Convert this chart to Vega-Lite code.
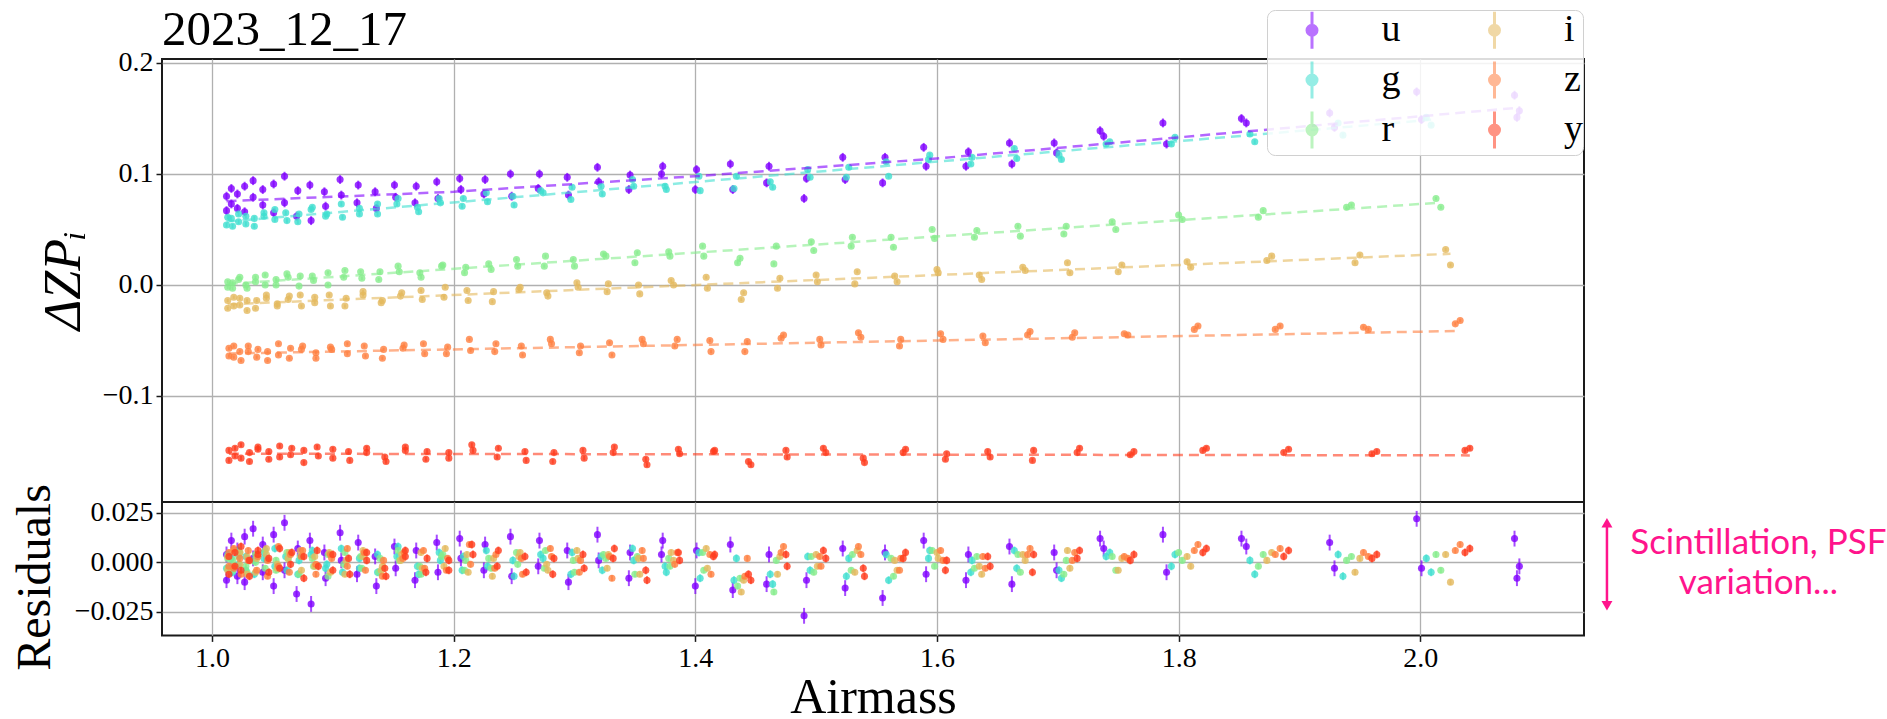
{
"$schema": "https://vega.github.io/schema/vega-lite/v6.json",
"background": "white",
"padding": {"left": 10, "top": 4, "right": 0, "bottom": 0},
"bounds": "flush",
"datasets": {
"pts": [
{"b":"u","a":1.012,"z":0.080,"r":0.004,"e":0.004},
{"b":"u","a":1.012,"z":0.067,"r":-0.009,"e":0.004},
{"b":"u","a":1.016,"z":0.087,"r":0.011,"e":0.004},
{"b":"u","a":1.016,"z":0.073,"r":-0.003,"e":0.004},
{"b":"u","a":1.021,"z":0.069,"r":-0.007,"e":0.004},
{"b":"u","a":1.021,"z":0.082,"r":0.006,"e":0.004},
{"b":"u","a":1.027,"z":0.089,"r":0.013,"e":0.004},
{"b":"u","a":1.027,"z":0.066,"r":-0.010,"e":0.004},
{"b":"u","a":1.034,"z":0.079,"r":0.002,"e":0.004},
{"b":"u","a":1.034,"z":0.094,"r":0.017,"e":0.004},
{"b":"u","a":1.042,"z":0.072,"r":-0.005,"e":0.004},
{"b":"u","a":1.042,"z":0.086,"r":0.009,"e":0.004},
{"b":"u","a":1.051,"z":0.091,"r":0.014,"e":0.004},
{"b":"u","a":1.051,"z":0.065,"r":-0.012,"e":0.004},
{"b":"u","a":1.060,"z":0.098,"r":0.020,"e":0.004},
{"b":"u","a":1.060,"z":0.074,"r":-0.004,"e":0.004},
{"b":"u","a":1.070,"z":0.062,"r":-0.016,"e":0.004},
{"b":"u","a":1.071,"z":0.085,"r":0.007,"e":0.004},
{"b":"u","a":1.081,"z":0.090,"r":0.011,"e":0.004},
{"b":"u","a":1.082,"z":0.058,"r":-0.021,"e":0.004},
{"b":"u","a":1.093,"z":0.084,"r":0.005,"e":0.004},
{"b":"u","a":1.094,"z":0.071,"r":-0.008,"e":0.004},
{"b":"u","a":1.106,"z":0.095,"r":0.015,"e":0.004},
{"b":"u","a":1.107,"z":0.081,"r":0.001,"e":0.004},
{"b":"u","a":1.120,"z":0.074,"r":-0.006,"e":0.004},
{"b":"u","a":1.121,"z":0.090,"r":0.010,"e":0.004},
{"b":"u","a":1.135,"z":0.084,"r":0.003,"e":0.004},
{"b":"u","a":1.136,"z":0.069,"r":-0.012,"e":0.004},
{"b":"u","a":1.151,"z":0.090,"r":0.008,"e":0.004},
{"b":"u","a":1.152,"z":0.079,"r":-0.003,"e":0.004},
{"b":"u","a":1.168,"z":0.074,"r":-0.009,"e":0.004},
{"b":"u","a":1.169,"z":0.089,"r":0.006,"e":0.004},
{"b":"u","a":1.186,"z":0.093,"r":0.010,"e":0.004},
{"b":"u","a":1.187,"z":0.078,"r":-0.005,"e":0.004},
{"b":"u","a":1.205,"z":0.096,"r":0.012,"e":0.004},
{"b":"u","a":1.206,"z":0.086,"r":0.002,"e":0.004},
{"b":"u","a":1.225,"z":0.082,"r":-0.004,"e":0.004},
{"b":"u","a":1.226,"z":0.095,"r":0.009,"e":0.004},
{"b":"u","a":1.247,"z":0.100,"r":0.013,"e":0.004},
{"b":"u","a":1.248,"z":0.080,"r":-0.007,"e":0.004},
{"b":"u","a":1.270,"z":0.087,"r":-0.002,"e":0.004},
{"b":"u","a":1.271,"z":0.100,"r":0.011,"e":0.004},
{"b":"u","a":1.294,"z":0.097,"r":0.006,"e":0.004},
{"b":"u","a":1.295,"z":0.081,"r":-0.010,"e":0.004},
{"b":"u","a":1.319,"z":0.106,"r":0.014,"e":0.004},
{"b":"u","a":1.320,"z":0.093,"r":0.001,"e":0.004},
{"b":"u","a":1.345,"z":0.086,"r":-0.008,"e":0.004},
{"b":"u","a":1.346,"z":0.099,"r":0.005,"e":0.004},
{"b":"u","a":1.372,"z":0.100,"r":0.004,"e":0.004},
{"b":"u","a":1.373,"z":0.107,"r":0.011,"e":0.004},
{"b":"u","a":1.400,"z":0.086,"r":-0.012,"e":0.004},
{"b":"u","a":1.401,"z":0.104,"r":0.006,"e":0.004},
{"b":"u","a":1.429,"z":0.109,"r":0.009,"e":0.004},
{"b":"u","a":1.431,"z":0.086,"r":-0.014,"e":0.004},
{"b":"u","a":1.459,"z":0.092,"r":-0.011,"e":0.004},
{"b":"u","a":1.461,"z":0.107,"r":0.004,"e":0.004},
{"b":"u","a":1.490,"z":0.078,"r":-0.027,"e":0.004},
{"b":"u","a":1.492,"z":0.096,"r":-0.009,"e":0.004},
{"b":"u","a":1.522,"z":0.115,"r":0.007,"e":0.004},
{"b":"u","a":1.524,"z":0.095,"r":-0.013,"e":0.004},
{"b":"u","a":1.555,"z":0.092,"r":-0.018,"e":0.004},
{"b":"u","a":1.557,"z":0.115,"r":0.005,"e":0.004},
{"b":"u","a":1.589,"z":0.124,"r":0.011,"e":0.004},
{"b":"u","a":1.591,"z":0.107,"r":-0.006,"e":0.004},
{"b":"u","a":1.624,"z":0.107,"r":-0.009,"e":0.004},
{"b":"u","a":1.626,"z":0.120,"r":0.004,"e":0.004},
{"b":"u","a":1.660,"z":0.128,"r":0.008,"e":0.004},
{"b":"u","a":1.662,"z":0.109,"r":-0.011,"e":0.004},
{"b":"u","a":1.697,"z":0.128,"r":0.005,"e":0.004},
{"b":"u","a":1.699,"z":0.119,"r":-0.004,"e":0.004},
{"b":"u","a":1.735,"z":0.139,"r":0.012,"e":0.004},
{"b":"u","a":1.738,"z":0.134,"r":0.007,"e":0.004},
{"b":"u","a":1.787,"z":0.146,"r":0.014,"e":0.004},
{"b":"u","a":1.790,"z":0.127,"r":-0.005,"e":0.004},
{"b":"u","a":1.852,"z":0.150,"r":0.012,"e":0.004},
{"b":"u","a":1.856,"z":0.146,"r":0.008,"e":0.004},
{"b":"u","a":1.925,"z":0.155,"r":0.010,"e":0.004},
{"b":"u","a":1.929,"z":0.142,"r":-0.003,"e":0.004},
{"b":"u","a":1.997,"z":0.174,"r":0.022,"e":0.004},
{"b":"u","a":2.001,"z":0.149,"r":-0.003,"e":0.004},
{"b":"u","a":2.078,"z":0.171,"r":0.012,"e":0.004},
{"b":"u","a":2.080,"z":0.151,"r":-0.008,"e":0.004},
{"b":"u","a":2.082,"z":0.157,"r":-0.002,"e":0.004},
{"b":"g","a":1.012,"z":0.054,"r":-0.003,"e":0.002},
{"b":"g","a":1.013,"z":0.061,"r":0.004,"e":0.002},
{"b":"g","a":1.016,"z":0.060,"r":0.002,"e":0.002},
{"b":"g","a":1.017,"z":0.053,"r":-0.005,"e":0.002},
{"b":"g","a":1.022,"z":0.064,"r":0.006,"e":0.002},
{"b":"g","a":1.022,"z":0.057,"r":-0.001,"e":0.002},
{"b":"g","a":1.028,"z":0.055,"r":-0.004,"e":0.002},
{"b":"g","a":1.028,"z":0.062,"r":0.003,"e":0.002},
{"b":"g","a":1.035,"z":0.060,"r":0.001,"e":0.002},
{"b":"g","a":1.035,"z":0.053,"r":-0.006,"e":0.002},
{"b":"g","a":1.043,"z":0.065,"r":0.005,"e":0.002},
{"b":"g","a":1.043,"z":0.062,"r":0.002,"e":0.002},
{"b":"g","a":1.052,"z":0.059,"r":-0.002,"e":0.002},
{"b":"g","a":1.052,"z":0.068,"r":0.007,"e":0.002},
{"b":"g","a":1.061,"z":0.065,"r":0.003,"e":0.002},
{"b":"g","a":1.062,"z":0.058,"r":-0.004,"e":0.002},
{"b":"g","a":1.071,"z":0.057,"r":-0.006,"e":0.002},
{"b":"g","a":1.072,"z":0.064,"r":0.001,"e":0.002},
{"b":"g","a":1.082,"z":0.068,"r":0.004,"e":0.002},
{"b":"g","a":1.083,"z":0.070,"r":0.006,"e":0.002},
{"b":"g","a":1.094,"z":0.062,"r":-0.003,"e":0.002},
{"b":"g","a":1.095,"z":0.064,"r":-0.001,"e":0.002},
{"b":"g","a":1.107,"z":0.073,"r":0.007,"e":0.002},
{"b":"g","a":1.108,"z":0.061,"r":-0.005,"e":0.002},
{"b":"g","a":1.122,"z":0.069,"r":0.002,"e":0.002},
{"b":"g","a":1.122,"z":0.064,"r":-0.003,"e":0.002},
{"b":"g","a":1.137,"z":0.064,"r":-0.005,"e":0.002},
{"b":"g","a":1.137,"z":0.073,"r":0.004,"e":0.002},
{"b":"g","a":1.153,"z":0.073,"r":0.003,"e":0.002},
{"b":"g","a":1.154,"z":0.078,"r":0.008,"e":0.002},
{"b":"g","a":1.170,"z":0.070,"r":-0.002,"e":0.002},
{"b":"g","a":1.171,"z":0.066,"r":-0.006,"e":0.002},
{"b":"g","a":1.188,"z":0.078,"r":0.005,"e":0.002},
{"b":"g","a":1.189,"z":0.074,"r":0.001,"e":0.002},
{"b":"g","a":1.207,"z":0.071,"r":-0.004,"e":0.002},
{"b":"g","a":1.208,"z":0.078,"r":0.003,"e":0.002},
{"b":"g","a":1.227,"z":0.083,"r":0.006,"e":0.002},
{"b":"g","a":1.228,"z":0.075,"r":-0.002,"e":0.002},
{"b":"g","a":1.249,"z":0.080,"r":0.001,"e":0.002},
{"b":"g","a":1.250,"z":0.072,"r":-0.007,"e":0.002},
{"b":"g","a":1.272,"z":0.085,"r":0.004,"e":0.002},
{"b":"g","a":1.274,"z":0.083,"r":0.002,"e":0.002},
{"b":"g","a":1.297,"z":0.077,"r":-0.006,"e":0.002},
{"b":"g","a":1.298,"z":0.088,"r":0.005,"e":0.002},
{"b":"g","a":1.322,"z":0.089,"r":0.003,"e":0.002},
{"b":"g","a":1.323,"z":0.082,"r":-0.004,"e":0.002},
{"b":"g","a":1.348,"z":0.095,"r":0.007,"e":0.002},
{"b":"g","a":1.349,"z":0.089,"r":0.001,"e":0.002},
{"b":"g","a":1.375,"z":0.089,"r":-0.002,"e":0.002},
{"b":"g","a":1.376,"z":0.086,"r":-0.005,"e":0.002},
{"b":"g","a":1.403,"z":0.098,"r":0.005,"e":0.002},
{"b":"g","a":1.404,"z":0.085,"r":-0.008,"e":0.002},
{"b":"g","a":1.432,"z":0.087,"r":-0.009,"e":0.002},
{"b":"g","a":1.434,"z":0.098,"r":0.002,"e":0.002},
{"b":"g","a":1.462,"z":0.093,"r":-0.006,"e":0.002},
{"b":"g","a":1.464,"z":0.088,"r":-0.011,"e":0.002},
{"b":"g","a":1.493,"z":0.104,"r":0.003,"e":0.002},
{"b":"g","a":1.495,"z":0.097,"r":-0.004,"e":0.002},
{"b":"g","a":1.525,"z":0.097,"r":-0.007,"e":0.002},
{"b":"g","a":1.527,"z":0.106,"r":0.002,"e":0.002},
{"b":"g","a":1.558,"z":0.111,"r":0.004,"e":0.002},
{"b":"g","a":1.560,"z":0.098,"r":-0.009,"e":0.002},
{"b":"g","a":1.593,"z":0.113,"r":0.002,"e":0.002},
{"b":"g","a":1.594,"z":0.117,"r":0.006,"e":0.002},
{"b":"g","a":1.628,"z":0.109,"r":-0.005,"e":0.002},
{"b":"g","a":1.629,"z":0.115,"r":0.001,"e":0.002},
{"b":"g","a":1.664,"z":0.123,"r":0.006,"e":0.002},
{"b":"g","a":1.666,"z":0.114,"r":-0.003,"e":0.002},
{"b":"g","a":1.701,"z":0.117,"r":-0.004,"e":0.002},
{"b":"g","a":1.703,"z":0.113,"r":-0.008,"e":0.002},
{"b":"g","a":1.740,"z":0.127,"r":0.003,"e":0.002},
{"b":"g","a":1.743,"z":0.129,"r":0.005,"e":0.002},
{"b":"g","a":1.794,"z":0.127,"r":-0.002,"e":0.002},
{"b":"g","a":1.797,"z":0.133,"r":0.004,"e":0.002},
{"b":"g","a":1.859,"z":0.136,"r":0.001,"e":0.002},
{"b":"g","a":1.863,"z":0.129,"r":-0.006,"e":0.002},
{"b":"g","a":1.932,"z":0.146,"r":0.004,"e":0.002},
{"b":"g","a":1.936,"z":0.135,"r":-0.007,"e":0.002},
{"b":"g","a":2.005,"z":0.151,"r":0.002,"e":0.002},
{"b":"g","a":2.009,"z":0.144,"r":-0.005,"e":0.002},
{"b":"r","a":1.013,"z":0.003,"r":0.002,"e":0.0015},
{"b":"r","a":1.013,"z":-0.002,"r":-0.003,"e":0.0015},
{"b":"r","a":1.017,"z":-0.003,"r":-0.004,"e":0.0015},
{"b":"r","a":1.017,"z":0.002,"r":0.001,"e":0.0015},
{"b":"r","a":1.022,"z":0.005,"r":0.003,"e":0.0015},
{"b":"r","a":1.023,"z":0.007,"r":0.005,"e":0.0015},
{"b":"r","a":1.028,"z":0.000,"r":-0.002,"e":0.0015},
{"b":"r","a":1.029,"z":-0.003,"r":-0.005,"e":0.0015},
{"b":"r","a":1.036,"z":0.007,"r":0.004,"e":0.0015},
{"b":"r","a":1.036,"z":0.003,"r":0.000,"e":0.0015},
{"b":"r","a":1.044,"z":0.000,"r":-0.003,"e":0.0015},
{"b":"r","a":1.044,"z":0.009,"r":0.006,"e":0.0015},
{"b":"r","a":1.053,"z":0.005,"r":0.001,"e":0.0015},
{"b":"r","a":1.053,"z":0.000,"r":-0.004,"e":0.0015},
{"b":"r","a":1.062,"z":0.010,"r":0.005,"e":0.0015},
{"b":"r","a":1.063,"z":0.007,"r":0.002,"e":0.0015},
{"b":"r","a":1.072,"z":-0.001,"r":-0.006,"e":0.0015},
{"b":"r","a":1.073,"z":0.008,"r":0.003,"e":0.0015},
{"b":"r","a":1.083,"z":0.008,"r":0.002,"e":0.0015},
{"b":"r","a":1.084,"z":0.004,"r":-0.002,"e":0.0015},
{"b":"r","a":1.096,"z":0.011,"r":0.004,"e":0.0015},
{"b":"r","a":1.096,"z":0.000,"r":-0.007,"e":0.0015},
{"b":"r","a":1.109,"z":0.007,"r":-0.001,"e":0.0015},
{"b":"r","a":1.110,"z":0.013,"r":0.005,"e":0.0015},
{"b":"r","a":1.123,"z":0.012,"r":0.003,"e":0.0015},
{"b":"r","a":1.124,"z":0.006,"r":-0.003,"e":0.0015},
{"b":"r","a":1.138,"z":0.005,"r":-0.005,"e":0.0015},
{"b":"r","a":1.139,"z":0.012,"r":0.002,"e":0.0015},
{"b":"r","a":1.154,"z":0.017,"r":0.006,"e":0.0015},
{"b":"r","a":1.155,"z":0.012,"r":0.001,"e":0.0015},
{"b":"r","a":1.172,"z":0.011,"r":-0.002,"e":0.0015},
{"b":"r","a":1.173,"z":0.007,"r":-0.006,"e":0.0015},
{"b":"r","a":1.190,"z":0.017,"r":0.003,"e":0.0015},
{"b":"r","a":1.191,"z":0.018,"r":0.004,"e":0.0015},
{"b":"r","a":1.209,"z":0.011,"r":-0.004,"e":0.0015},
{"b":"r","a":1.210,"z":0.016,"r":0.001,"e":0.0015},
{"b":"r","a":1.229,"z":0.019,"r":0.002,"e":0.0015},
{"b":"r","a":1.231,"z":0.014,"r":-0.003,"e":0.0015},
{"b":"r","a":1.252,"z":0.023,"r":0.005,"e":0.0015},
{"b":"r","a":1.253,"z":0.017,"r":-0.001,"e":0.0015},
{"b":"r","a":1.275,"z":0.017,"r":-0.003,"e":0.0015},
{"b":"r","a":1.276,"z":0.026,"r":0.006,"e":0.0015},
{"b":"r","a":1.299,"z":0.023,"r":0.001,"e":0.0015},
{"b":"r","a":1.300,"z":0.017,"r":-0.005,"e":0.0015},
{"b":"r","a":1.324,"z":0.028,"r":0.004,"e":0.0015},
{"b":"r","a":1.326,"z":0.026,"r":0.002,"e":0.0015},
{"b":"r","a":1.350,"z":0.020,"r":-0.006,"e":0.0015},
{"b":"r","a":1.352,"z":0.029,"r":0.003,"e":0.0015},
{"b":"r","a":1.378,"z":0.030,"r":0.002,"e":0.0015},
{"b":"r","a":1.379,"z":0.026,"r":-0.002,"e":0.0015},
{"b":"r","a":1.406,"z":0.035,"r":0.005,"e":0.0015},
{"b":"r","a":1.407,"z":0.026,"r":-0.004,"e":0.0015},
{"b":"r","a":1.435,"z":0.020,"r":-0.012,"e":0.0015},
{"b":"r","a":1.437,"z":0.024,"r":-0.008,"e":0.0015},
{"b":"r","a":1.465,"z":0.019,"r":-0.015,"e":0.0015},
{"b":"r","a":1.467,"z":0.035,"r":0.001,"e":0.0015},
{"b":"r","a":1.496,"z":0.039,"r":0.003,"e":0.0015},
{"b":"r","a":1.498,"z":0.031,"r":-0.005,"e":0.0015},
{"b":"r","a":1.529,"z":0.035,"r":-0.004,"e":0.0015},
{"b":"r","a":1.530,"z":0.043,"r":0.004,"e":0.0015},
{"b":"r","a":1.562,"z":0.043,"r":0.002,"e":0.0015},
{"b":"r","a":1.564,"z":0.034,"r":-0.007,"e":0.0015},
{"b":"r","a":1.596,"z":0.050,"r":0.006,"e":0.0015},
{"b":"r","a":1.598,"z":0.042,"r":-0.002,"e":0.0015},
{"b":"r","a":1.631,"z":0.043,"r":-0.003,"e":0.0015},
{"b":"r","a":1.633,"z":0.049,"r":0.003,"e":0.0015},
{"b":"r","a":1.667,"z":0.053,"r":0.004,"e":0.0015},
{"b":"r","a":1.669,"z":0.044,"r":-0.005,"e":0.0015},
{"b":"r","a":1.705,"z":0.046,"r":-0.006,"e":0.0015},
{"b":"r","a":1.707,"z":0.053,"r":0.001,"e":0.0015},
{"b":"r","a":1.745,"z":0.057,"r":0.003,"e":0.0015},
{"b":"r","a":1.748,"z":0.050,"r":-0.004,"e":0.0015},
{"b":"r","a":1.800,"z":0.063,"r":0.005,"e":0.0015},
{"b":"r","a":1.803,"z":0.059,"r":0.001,"e":0.0015},
{"b":"r","a":1.866,"z":0.061,"r":-0.002,"e":0.0015},
{"b":"r","a":1.870,"z":0.067,"r":0.004,"e":0.0015},
{"b":"r","a":1.939,"z":0.070,"r":0.001,"e":0.0015},
{"b":"r","a":1.943,"z":0.072,"r":0.003,"e":0.0015},
{"b":"r","a":2.013,"z":0.078,"r":0.004,"e":0.0015},
{"b":"r","a":2.017,"z":0.070,"r":-0.004,"e":0.0015},
{"b":"i","a":1.013,"z":-0.021,"r":-0.004,"e":0.0015},
{"b":"i","a":1.013,"z":-0.014,"r":0.003,"e":0.0015},
{"b":"i","a":1.018,"z":-0.011,"r":0.006,"e":0.0015},
{"b":"i","a":1.018,"z":-0.019,"r":-0.002,"e":0.0015},
{"b":"i","a":1.023,"z":-0.018,"r":-0.001,"e":0.0015},
{"b":"i","a":1.023,"z":-0.012,"r":0.005,"e":0.0015},
{"b":"i","a":1.029,"z":-0.014,"r":0.003,"e":0.0015},
{"b":"i","a":1.029,"z":-0.023,"r":-0.006,"e":0.0015},
{"b":"i","a":1.036,"z":-0.021,"r":-0.005,"e":0.0015},
{"b":"i","a":1.037,"z":-0.014,"r":0.002,"e":0.0015},
{"b":"i","a":1.045,"z":-0.012,"r":0.004,"e":0.0015},
{"b":"i","a":1.045,"z":-0.009,"r":0.007,"e":0.0015},
{"b":"i","a":1.054,"z":-0.019,"r":-0.003,"e":0.0015},
{"b":"i","a":1.054,"z":-0.017,"r":-0.001,"e":0.0015},
{"b":"i","a":1.063,"z":-0.013,"r":0.002,"e":0.0015},
{"b":"i","a":1.064,"z":-0.010,"r":0.005,"e":0.0015},
{"b":"i","a":1.073,"z":-0.009,"r":0.006,"e":0.0015},
{"b":"i","a":1.074,"z":-0.019,"r":-0.004,"e":0.0015},
{"b":"i","a":1.085,"z":-0.016,"r":-0.002,"e":0.0015},
{"b":"i","a":1.085,"z":-0.011,"r":0.003,"e":0.0015},
{"b":"i","a":1.097,"z":-0.009,"r":0.005,"e":0.0015},
{"b":"i","a":1.098,"z":-0.019,"r":-0.005,"e":0.0015},
{"b":"i","a":1.110,"z":-0.019,"r":-0.006,"e":0.0015},
{"b":"i","a":1.111,"z":-0.012,"r":0.001,"e":0.0015},
{"b":"i","a":1.125,"z":-0.009,"r":0.003,"e":0.0015},
{"b":"i","a":1.125,"z":-0.006,"r":0.006,"e":0.0015},
{"b":"i","a":1.140,"z":-0.016,"r":-0.004,"e":0.0015},
{"b":"i","a":1.141,"z":-0.014,"r":-0.002,"e":0.0015},
{"b":"i","a":1.156,"z":-0.010,"r":0.001,"e":0.0015},
{"b":"i","a":1.157,"z":-0.007,"r":0.004,"e":0.0015},
{"b":"i","a":1.173,"z":-0.005,"r":0.005,"e":0.0015},
{"b":"i","a":1.174,"z":-0.013,"r":-0.003,"e":0.0015},
{"b":"i","a":1.192,"z":-0.011,"r":-0.002,"e":0.0015},
{"b":"i","a":1.193,"z":-0.002,"r":0.007,"e":0.0015},
{"b":"i","a":1.211,"z":-0.005,"r":0.004,"e":0.0015},
{"b":"i","a":1.212,"z":-0.014,"r":-0.005,"e":0.0015},
{"b":"i","a":1.232,"z":-0.015,"r":-0.007,"e":0.0015},
{"b":"i","a":1.233,"z":-0.006,"r":0.002,"e":0.0015},
{"b":"i","a":1.254,"z":-0.004,"r":0.003,"e":0.0015},
{"b":"i","a":1.255,"z":-0.002,"r":0.005,"e":0.0015},
{"b":"i","a":1.277,"z":-0.007,"r":-0.001,"e":0.0015},
{"b":"i","a":1.278,"z":-0.010,"r":-0.004,"e":0.0015},
{"b":"i","a":1.302,"z":0.002,"r":0.006,"e":0.0015},
{"b":"i","a":1.303,"z":-0.002,"r":0.002,"e":0.0015},
{"b":"i","a":1.327,"z":-0.006,"r":-0.003,"e":0.0015},
{"b":"i","a":1.328,"z":0.001,"r":0.004,"e":0.0015},
{"b":"i","a":1.353,"z":0.000,"r":0.002,"e":0.0015},
{"b":"i","a":1.354,"z":-0.008,"r":-0.006,"e":0.0015},
{"b":"i","a":1.380,"z":0.004,"r":0.005,"e":0.0015},
{"b":"i","a":1.382,"z":0.000,"r":0.001,"e":0.0015},
{"b":"i","a":1.409,"z":0.007,"r":0.007,"e":0.0015},
{"b":"i","a":1.410,"z":-0.003,"r":-0.003,"e":0.0015},
{"b":"i","a":1.438,"z":-0.013,"r":-0.015,"e":0.0015},
{"b":"i","a":1.440,"z":-0.007,"r":-0.009,"e":0.0015},
{"b":"i","a":1.468,"z":-0.003,"r":-0.006,"e":0.0015},
{"b":"i","a":1.470,"z":0.006,"r":0.003,"e":0.0015},
{"b":"i","a":1.500,"z":0.009,"r":0.004,"e":0.0015},
{"b":"i","a":1.501,"z":0.003,"r":-0.002,"e":0.0015},
{"b":"i","a":1.532,"z":0.001,"r":-0.005,"e":0.0015},
{"b":"i","a":1.534,"z":0.012,"r":0.006,"e":0.0015},
{"b":"i","a":1.565,"z":0.008,"r":0.001,"e":0.0015},
{"b":"i","a":1.567,"z":0.003,"r":-0.004,"e":0.0015},
{"b":"i","a":1.600,"z":0.014,"r":0.005,"e":0.0015},
{"b":"i","a":1.601,"z":0.011,"r":0.002,"e":0.0015},
{"b":"i","a":1.635,"z":0.009,"r":-0.002,"e":0.0015},
{"b":"i","a":1.637,"z":0.005,"r":-0.006,"e":0.0015},
{"b":"i","a":1.671,"z":0.016,"r":0.004,"e":0.0015},
{"b":"i","a":1.673,"z":0.013,"r":0.001,"e":0.0015},
{"b":"i","a":1.708,"z":0.020,"r":0.006,"e":0.0015},
{"b":"i","a":1.710,"z":0.011,"r":-0.003,"e":0.0015},
{"b":"i","a":1.750,"z":0.012,"r":-0.004,"e":0.0015},
{"b":"i","a":1.753,"z":0.018,"r":0.002,"e":0.0015},
{"b":"i","a":1.807,"z":0.021,"r":0.003,"e":0.0015},
{"b":"i","a":1.810,"z":0.016,"r":-0.002,"e":0.0015},
{"b":"i","a":1.873,"z":0.022,"r":0.001,"e":0.0015},
{"b":"i","a":1.877,"z":0.026,"r":0.005,"e":0.0015},
{"b":"i","a":1.946,"z":0.020,"r":-0.005,"e":0.0015},
{"b":"i","a":1.950,"z":0.027,"r":0.002,"e":0.0015},
{"b":"i","a":2.021,"z":0.032,"r":0.004,"e":0.0015},
{"b":"i","a":2.025,"z":0.018,"r":-0.010,"e":0.0015},
{"b":"z","a":1.014,"z":-0.057,"r":0.005,"e":0.0015},
{"b":"z","a":1.014,"z":-0.064,"r":-0.002,"e":0.0015},
{"b":"z","a":1.018,"z":-0.065,"r":-0.003,"e":0.0015},
{"b":"z","a":1.018,"z":-0.055,"r":0.007,"e":0.0015},
{"b":"z","a":1.023,"z":-0.060,"r":0.002,"e":0.0015},
{"b":"z","a":1.024,"z":-0.068,"r":-0.006,"e":0.0015},
{"b":"z","a":1.030,"z":-0.055,"r":0.006,"e":0.0015},
{"b":"z","a":1.030,"z":-0.060,"r":0.001,"e":0.0015},
{"b":"z","a":1.037,"z":-0.065,"r":-0.004,"e":0.0015},
{"b":"z","a":1.038,"z":-0.058,"r":0.003,"e":0.0015},
{"b":"z","a":1.046,"z":-0.060,"r":0.001,"e":0.0015},
{"b":"z","a":1.046,"z":-0.068,"r":-0.007,"e":0.0015},
{"b":"z","a":1.055,"z":-0.053,"r":0.008,"e":0.0015},
{"b":"z","a":1.055,"z":-0.063,"r":-0.002,"e":0.0015},
{"b":"z","a":1.064,"z":-0.066,"r":-0.005,"e":0.0015},
{"b":"z","a":1.065,"z":-0.057,"r":0.004,"e":0.0015},
{"b":"z","a":1.074,"z":-0.058,"r":0.003,"e":0.0015},
{"b":"z","a":1.075,"z":-0.055,"r":0.006,"e":0.0015},
{"b":"z","a":1.086,"z":-0.066,"r":-0.006,"e":0.0015},
{"b":"z","a":1.086,"z":-0.061,"r":-0.001,"e":0.0015},
{"b":"z","a":1.098,"z":-0.056,"r":0.004,"e":0.0015},
{"b":"z","a":1.099,"z":-0.058,"r":0.002,"e":0.0015},
{"b":"z","a":1.112,"z":-0.062,"r":-0.002,"e":0.0015},
{"b":"z","a":1.112,"z":-0.053,"r":0.007,"e":0.0015},
{"b":"z","a":1.126,"z":-0.055,"r":0.005,"e":0.0015},
{"b":"z","a":1.127,"z":-0.064,"r":-0.004,"e":0.0015},
{"b":"z","a":1.141,"z":-0.066,"r":-0.007,"e":0.0015},
{"b":"z","a":1.142,"z":-0.058,"r":0.001,"e":0.0015},
{"b":"z","a":1.158,"z":-0.057,"r":0.002,"e":0.0015},
{"b":"z","a":1.159,"z":-0.054,"r":0.005,"e":0.0015},
{"b":"z","a":1.175,"z":-0.053,"r":0.006,"e":0.0015},
{"b":"z","a":1.176,"z":-0.062,"r":-0.003,"e":0.0015},
{"b":"z","a":1.194,"z":-0.062,"r":-0.004,"e":0.0015},
{"b":"z","a":1.195,"z":-0.056,"r":0.002,"e":0.0015},
{"b":"z","a":1.213,"z":-0.049,"r":0.009,"e":0.0015},
{"b":"z","a":1.214,"z":-0.059,"r":-0.001,"e":0.0015},
{"b":"z","a":1.234,"z":-0.060,"r":-0.003,"e":0.0015},
{"b":"z","a":1.235,"z":-0.053,"r":0.004,"e":0.0015},
{"b":"z","a":1.256,"z":-0.055,"r":0.002,"e":0.0015},
{"b":"z","a":1.257,"z":-0.063,"r":-0.006,"e":0.0015},
{"b":"z","a":1.280,"z":-0.049,"r":0.007,"e":0.0015},
{"b":"z","a":1.281,"z":-0.053,"r":0.003,"e":0.0015},
{"b":"z","a":1.304,"z":-0.061,"r":-0.005,"e":0.0015},
{"b":"z","a":1.305,"z":-0.055,"r":0.001,"e":0.0015},
{"b":"z","a":1.329,"z":-0.052,"r":0.003,"e":0.0015},
{"b":"z","a":1.331,"z":-0.063,"r":-0.008,"e":0.0015},
{"b":"z","a":1.356,"z":-0.049,"r":0.006,"e":0.0015},
{"b":"z","a":1.357,"z":-0.053,"r":0.002,"e":0.0015},
{"b":"z","a":1.383,"z":-0.055,"r":-0.001,"e":0.0015},
{"b":"z","a":1.385,"z":-0.049,"r":0.005,"e":0.0015},
{"b":"z","a":1.412,"z":-0.050,"r":0.004,"e":0.0015},
{"b":"z","a":1.413,"z":-0.060,"r":-0.006,"e":0.0015},
{"b":"z","a":1.441,"z":-0.060,"r":-0.007,"e":0.0015},
{"b":"z","a":1.443,"z":-0.051,"r":0.002,"e":0.0015},
{"b":"z","a":1.471,"z":-0.048,"r":0.005,"e":0.0015},
{"b":"z","a":1.473,"z":-0.045,"r":0.008,"e":0.0015},
{"b":"z","a":1.503,"z":-0.049,"r":0.003,"e":0.0015},
{"b":"z","a":1.504,"z":-0.054,"r":-0.002,"e":0.0015},
{"b":"z","a":1.535,"z":-0.043,"r":0.008,"e":0.0015},
{"b":"z","a":1.537,"z":-0.047,"r":0.004,"e":0.0015},
{"b":"z","a":1.569,"z":-0.055,"r":-0.004,"e":0.0015},
{"b":"z","a":1.570,"z":-0.049,"r":0.002,"e":0.0015},
{"b":"z","a":1.603,"z":-0.044,"r":0.006,"e":0.0015},
{"b":"z","a":1.605,"z":-0.049,"r":0.001,"e":0.0015},
{"b":"z","a":1.638,"z":-0.046,"r":0.003,"e":0.0015},
{"b":"z","a":1.640,"z":-0.052,"r":-0.003,"e":0.0015},
{"b":"z","a":1.675,"z":-0.045,"r":0.004,"e":0.0015},
{"b":"z","a":1.677,"z":-0.042,"r":0.007,"e":0.0015},
{"b":"z","a":1.712,"z":-0.047,"r":0.001,"e":0.0015},
{"b":"z","a":1.714,"z":-0.043,"r":0.005,"e":0.0015},
{"b":"z","a":1.755,"z":-0.044,"r":0.003,"e":0.0015},
{"b":"z","a":1.758,"z":-0.045,"r":0.002,"e":0.0015},
{"b":"z","a":1.813,"z":-0.040,"r":0.006,"e":0.0015},
{"b":"z","a":1.816,"z":-0.037,"r":0.009,"e":0.0015},
{"b":"z","a":1.880,"z":-0.040,"r":0.004,"e":0.0015},
{"b":"z","a":1.884,"z":-0.037,"r":0.007,"e":0.0015},
{"b":"z","a":1.953,"z":-0.038,"r":0.005,"e":0.0015},
{"b":"z","a":1.957,"z":-0.040,"r":0.003,"e":0.0015},
{"b":"z","a":2.029,"z":-0.035,"r":0.006,"e":0.0015},
{"b":"z","a":2.033,"z":-0.032,"r":0.009,"e":0.0015},
{"b":"y","a":1.014,"z":-0.149,"r":0.003,"e":0.002},
{"b":"y","a":1.014,"z":-0.158,"r":-0.006,"e":0.002},
{"b":"y","a":1.019,"z":-0.154,"r":-0.002,"e":0.002},
{"b":"y","a":1.019,"z":-0.147,"r":0.005,"e":0.002},
{"b":"y","a":1.024,"z":-0.144,"r":0.008,"e":0.002},
{"b":"y","a":1.024,"z":-0.156,"r":-0.004,"e":0.002},
{"b":"y","a":1.031,"z":-0.159,"r":-0.007,"e":0.002},
{"b":"y","a":1.031,"z":-0.151,"r":0.001,"e":0.002},
{"b":"y","a":1.038,"z":-0.148,"r":0.004,"e":0.002},
{"b":"y","a":1.038,"z":-0.146,"r":0.006,"e":0.002},
{"b":"y","a":1.047,"z":-0.157,"r":-0.005,"e":0.002},
{"b":"y","a":1.047,"z":-0.150,"r":0.002,"e":0.002},
{"b":"y","a":1.056,"z":-0.145,"r":0.007,"e":0.002},
{"b":"y","a":1.056,"z":-0.155,"r":-0.003,"e":0.002},
{"b":"y","a":1.065,"z":-0.153,"r":-0.001,"e":0.002},
{"b":"y","a":1.066,"z":-0.147,"r":0.005,"e":0.002},
{"b":"y","a":1.076,"z":-0.149,"r":0.003,"e":0.002},
{"b":"y","a":1.076,"z":-0.160,"r":-0.008,"e":0.002},
{"b":"y","a":1.087,"z":-0.146,"r":0.006,"e":0.002},
{"b":"y","a":1.088,"z":-0.154,"r":-0.002,"e":0.002},
{"b":"y","a":1.100,"z":-0.156,"r":-0.004,"e":0.002},
{"b":"y","a":1.100,"z":-0.148,"r":0.004,"e":0.002},
{"b":"y","a":1.113,"z":-0.150,"r":0.002,"e":0.002},
{"b":"y","a":1.114,"z":-0.158,"r":-0.006,"e":0.002},
{"b":"y","a":1.128,"z":-0.147,"r":0.005,"e":0.002},
{"b":"y","a":1.128,"z":-0.151,"r":0.001,"e":0.002},
{"b":"y","a":1.143,"z":-0.155,"r":-0.003,"e":0.002},
{"b":"y","a":1.144,"z":-0.159,"r":-0.007,"e":0.002},
{"b":"y","a":1.160,"z":-0.146,"r":0.006,"e":0.002},
{"b":"y","a":1.160,"z":-0.149,"r":0.003,"e":0.002},
{"b":"y","a":1.177,"z":-0.157,"r":-0.005,"e":0.002},
{"b":"y","a":1.178,"z":-0.150,"r":0.002,"e":0.002},
{"b":"y","a":1.196,"z":-0.151,"r":0.001,"e":0.002},
{"b":"y","a":1.196,"z":-0.156,"r":-0.004,"e":0.002},
{"b":"y","a":1.215,"z":-0.144,"r":0.009,"e":0.002},
{"b":"y","a":1.216,"z":-0.149,"r":0.004,"e":0.002},
{"b":"y","a":1.236,"z":-0.155,"r":-0.002,"e":0.002},
{"b":"y","a":1.237,"z":-0.147,"r":0.006,"e":0.002},
{"b":"y","a":1.259,"z":-0.150,"r":0.003,"e":0.002},
{"b":"y","a":1.260,"z":-0.158,"r":-0.005,"e":0.002},
{"b":"y","a":1.282,"z":-0.159,"r":-0.006,"e":0.002},
{"b":"y","a":1.283,"z":-0.151,"r":0.002,"e":0.002},
{"b":"y","a":1.307,"z":-0.149,"r":0.004,"e":0.002},
{"b":"y","a":1.308,"z":-0.156,"r":-0.003,"e":0.002},
{"b":"y","a":1.332,"z":-0.151,"r":0.002,"e":0.002},
{"b":"y","a":1.333,"z":-0.146,"r":0.007,"e":0.002},
{"b":"y","a":1.359,"z":-0.157,"r":-0.004,"e":0.002},
{"b":"y","a":1.360,"z":-0.162,"r":-0.009,"e":0.002},
{"b":"y","a":1.386,"z":-0.148,"r":0.005,"e":0.002},
{"b":"y","a":1.387,"z":-0.152,"r":0.001,"e":0.002},
{"b":"y","a":1.415,"z":-0.150,"r":0.003,"e":0.002},
{"b":"y","a":1.416,"z":-0.149,"r":0.004,"e":0.002},
{"b":"y","a":1.444,"z":-0.159,"r":-0.006,"e":0.002},
{"b":"y","a":1.446,"z":-0.162,"r":-0.009,"e":0.002},
{"b":"y","a":1.475,"z":-0.149,"r":0.004,"e":0.002},
{"b":"y","a":1.476,"z":-0.155,"r":-0.002,"e":0.002},
{"b":"y","a":1.506,"z":-0.147,"r":0.006,"e":0.002},
{"b":"y","a":1.508,"z":-0.151,"r":0.002,"e":0.002},
{"b":"y","a":1.539,"z":-0.156,"r":-0.003,"e":0.002},
{"b":"y","a":1.540,"z":-0.160,"r":-0.007,"e":0.002},
{"b":"y","a":1.572,"z":-0.151,"r":0.002,"e":0.002},
{"b":"y","a":1.574,"z":-0.148,"r":0.005,"e":0.002},
{"b":"y","a":1.607,"z":-0.157,"r":-0.004,"e":0.002},
{"b":"y","a":1.608,"z":-0.152,"r":0.001,"e":0.002},
{"b":"y","a":1.642,"z":-0.150,"r":0.003,"e":0.002},
{"b":"y","a":1.644,"z":-0.155,"r":-0.002,"e":0.002},
{"b":"y","a":1.679,"z":-0.158,"r":-0.005,"e":0.002},
{"b":"y","a":1.680,"z":-0.149,"r":0.004,"e":0.002},
{"b":"y","a":1.716,"z":-0.151,"r":0.002,"e":0.002},
{"b":"y","a":1.718,"z":-0.147,"r":0.006,"e":0.002},
{"b":"y","a":1.760,"z":-0.153,"r":0.001,"e":0.002},
{"b":"y","a":1.763,"z":-0.150,"r":0.004,"e":0.002},
{"b":"y","a":1.820,"z":-0.149,"r":0.005,"e":0.002},
{"b":"y","a":1.823,"z":-0.147,"r":0.007,"e":0.002},
{"b":"y","a":1.887,"z":-0.151,"r":0.003,"e":0.002},
{"b":"y","a":1.891,"z":-0.148,"r":0.006,"e":0.002},
{"b":"y","a":1.960,"z":-0.152,"r":0.002,"e":0.002},
{"b":"y","a":1.964,"z":-0.150,"r":0.004,"e":0.002},
{"b":"y","a":2.037,"z":-0.149,"r":0.005,"e":0.002},
{"b":"y","a":2.041,"z":-0.147,"r":0.007,"e":0.002}
],
"fit": [
{"b":"u","a":1.012,"z":0.0755},{"b":"u","a":1.2,"z":0.084},{"b":"u","a":1.4,"z":0.098},{"b":"u","a":1.6,"z":0.114},{"b":"u","a":1.8,"z":0.133},{"b":"u","a":2.0,"z":0.152},{"b":"u","a":2.082,"z":0.1598},
{"b":"g","a":1.012,"z":0.0571},{"b":"g","a":2.009,"z":0.1488},
{"b":"r","a":1.013,"z":0.0009},{"b":"r","a":2.017,"z":0.0742},
{"b":"i","a":1.013,"z":-0.0174},{"b":"i","a":2.025,"z":0.0281},
{"b":"z","a":1.014,"z":-0.0617},{"b":"z","a":2.033,"z":-0.0414},
{"b":"y","a":1.014,"z":-0.152},{"b":"y","a":1.4,"z":-0.1525},{"b":"y","a":1.7,"z":-0.153},{"b":"y","a":2.041,"z":-0.1535}
],
"arrow": [{"a":2.1545,"r":0.020,"r2":-0.0219}],
"heads": [{"a":2.1545,"r":0.0200,"s":"triangle-up"},{"a":2.1545,"r":-0.0219,"s":"triangle-down"}],
"note": [{"a":2.2798,"r":0.0044,"t":"Scintillation, PSF\nvariation..."}]
},
"spacing": 0,
"resolve": {"legend": {"color": "independent"}},
"vconcat": [
{
"width": 1422,
"height": 443,
"title": {"text": "2023_12_17", "anchor": "start", "frame": "group", "font": "Liberation Serif", "fontSize": 49, "fontWeight": "normal", "color": "black", "baseline": "alphabetic", "offset": -84},
"encoding": {
"x": {"field": "a", "type": "quantitative", "scale": {"domain": [0.9586, 2.1355], "nice": false, "zero": false}, "axis": {"values": [1, 1.2, 1.4, 1.6, 1.8, 2.0], "labels": false, "ticks": false, "title": null, "grid": true}},
"y": {"field": "z", "type": "quantitative", "scale": {"domain": [-0.1955, 0.2036], "nice": false, "zero": false}, "axis": {"values": [-0.1, 0, 0.1, 0.2], "labelExpr": "replace(format(datum.value, '.1f'), '-', '\u2212')", "title": "\u0394ZP\u1d62", "titleX": -83, "titleY": 221, "titleAngle": 270, "titleAlign": "center", "titleBaseline": "alphabetic", "titleFontSize": 52, "titleFontStyle": "italic"}},
"color": {"field": "b", "type": "nominal", "scale": {"domain": ["u", "g", "r", "i", "z", "y"], "range": ["#8000ff", "#40dfd0", "#86ec8c", "#e4b95e", "#ff7f40", "#ff3c1e"]},
"legend": {"orient": "none", "legendX": 1105, "legendY": -49, "direction": "vertical", "columns": 2, "title": "\u00a0", "titleOrient": "left", "titleFontSize": 4, "titlePadding": 25, "padding": 0, "fillColor": "rgba(255,255,255,0.85)", "strokeColor": "#d0d0d0", "cornerRadius": 8, "symbolType": "M0,-1L0,1M-0.27,0A0.27,0.27 0 1 1 0.27,0A0.27,0.27 0 1 1 -0.27,0Z", "symbolSize": 1369, "symbolStrokeWidth": 3, "symbolOpacity": 0.55, "labelFont": "Liberation Serif", "labelFontSize": 38, "labelOffset": 49.5, "labelColor": "black", "rowPadding": 0, "columnPadding": 73.5,
"encode": {"symbols": {"update": {"fill": {"scale": "color", "field": "value"}, "stroke": {"scale": "color", "field": "value"}, "strokeDash": {"value": []}, "opacity": {"value": 0.55}}}}}}
},
"layer": [
{"data": {"name": "pts"}, "mark": {"type": "errorbar", "ticks": false, "thickness": 2, "rule": {"opacity": 0.7}}, "encoding": {"yError": {"field": "e"}}},
{"data": {"name": "pts"}, "mark": {"type": "circle", "size": 50, "opacity": 0.8}},
{"data": {"name": "fit"}, "mark": {"type": "line", "strokeDash": [10, 6], "strokeWidth": 2.5, "opacity": 0.6}}
]
},
{
"width": 1422,
"height": 133.4,
"encoding": {
"x": {"field": "a", "type": "quantitative", "scale": {"domain": [0.9586, 2.1355], "nice": false, "zero": false}, "axis": {"values": [1, 1.2, 1.4, 1.6, 1.8, 2.0], "format": ".1f", "title": "Airmass", "titleFontSize": 50, "titleX": 711, "titleY": 77, "titleAlign": "center", "titleBaseline": "alphabetic", "grid": true}},
"y": {"field": "r", "type": "quantitative", "scale": {"domain": [-0.0369, 0.0305], "nice": false, "zero": false}, "axis": {"values": [-0.025, 0, 0.025], "labelExpr": "replace(format(datum.value, '.3f'), '-', '\u2212')", "title": "Residuals", "titleX": -113, "titleY": 75, "titleAngle": 270, "titleAlign": "center", "titleBaseline": "alphabetic", "titleFontSize": 48}}
},
"layer": [
{"data": {"name": "pts"}, "mark": {"type": "errorbar", "ticks": false, "thickness": 2, "rule": {"opacity": 0.7}}, "encoding": {"yError": {"field": "e"}, "color": {"field": "b", "type": "nominal", "scale": {"domain": ["u", "g", "r", "i", "z", "y"], "range": ["#8000ff", "#40dfd0", "#86ec8c", "#e4b95e", "#ff7f40", "#ff3c1e"]}, "legend": null}}},
{"data": {"name": "pts"}, "mark": {"type": "circle", "size": 50, "opacity": 0.8}, "encoding": {"color": {"field": "b", "type": "nominal", "scale": {"domain": ["u", "g", "r", "i", "z", "y"], "range": ["#8000ff", "#40dfd0", "#86ec8c", "#e4b95e", "#ff7f40", "#ff3c1e"]}, "legend": null}}},
{"data": {"name": "arrow"}, "mark": {"type": "rule", "color": "#ff148c", "strokeWidth": 2.5}, "encoding": {"y2": {"field": "r2"}}},
{"data": {"name": "heads"}, "mark": {"type": "point", "filled": true, "color": "#ff148c", "size": 120, "opacity": 1}, "encoding": {"shape": {"field": "s", "type": "nominal", "scale": null}}},
{"data": {"name": "note"}, "mark": {"type": "text", "font": "Lato", "fontSize": 35, "color": "#ff148c", "align": "center", "baseline": "alphabetic", "lineBreak": "\n", "lineHeight": 40}, "encoding": {"text": {"field": "t"}}}
]
}
],
"config": {
"view": {"stroke": "#1a1a1a", "strokeWidth": 2},
"axis": {"domain": false, "grid": true, "gridColor": "#b0b0b0", "gridWidth": 1.3, "tickColor": "#1a1a1a", "tickSize": 6, "tickWidth": 1.5, "labelFont": "Liberation Serif", "labelFontSize": 28, "labelColor": "black", "labelPadding": 3, "titleFont": "Liberation Serif", "titleFontWeight": "normal", "titleColor": "black"}
}
}
